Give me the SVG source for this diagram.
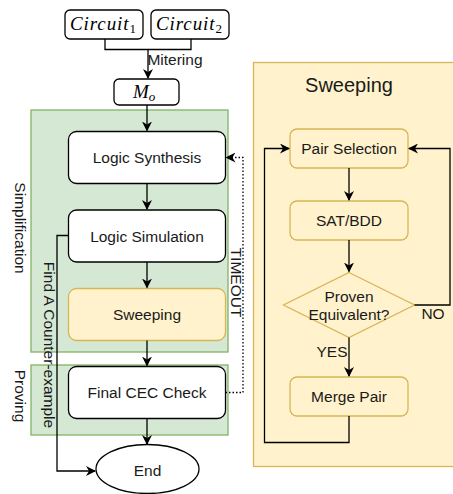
<svg xmlns="http://www.w3.org/2000/svg" width="453" height="494" viewBox="0 0 453 494">
<defs>
<marker id="arr" markerWidth="10" markerHeight="10" refX="9" refY="5" orient="auto" markerUnits="userSpaceOnUse">
<path d="M0,0 L10,5 L0,10 L3,5 Z" fill="#000"/>
</marker>
</defs>
<style>
.t{font-family:"Liberation Sans",Arial,sans-serif;font-size:15.5px;fill:#1a1a1a;text-anchor:middle;dominant-baseline:central}
.m{font-family:"Liberation Serif","Times New Roman",serif;font-style:italic;fill:#000}
.w{fill:#fff;stroke:#000;stroke-width:1.3}
.y{fill:#fff2cc;stroke:#d6b656;stroke-width:1.3}
.g{fill:#d5e8d4;stroke:#82b366;stroke-width:1.3}
.c{fill:none;stroke:#000;stroke-width:1.3}
</style>
<g id="simplification">
<rect class="g" x="31" y="110" width="197" height="242"/>
<text class="t" transform="translate(20,228) rotate(90)">Simplification</text>
</g>
<g id="proving">
<rect class="g" x="31" y="365" width="197" height="70"/>
<text class="t" transform="translate(20,396) rotate(90)">Proving</text>
</g>
<g id="sweeping-panel">
<rect class="y" x="253.5" y="62.5" width="205" height="404"/>
<text class="t" x="349" y="85" style="font-size:20px">Sweeping</text>
</g>
<g id="circuit1">
<rect class="w" x="65" y="10" width="78" height="29" rx="5"/>
<text class="m" x="70" y="30" style="font-size:19px;letter-spacing:0.9px">Circuit<tspan style="font-style:normal;font-size:13px" dy="3">1</tspan></text>
</g>
<g id="circuit2">
<rect class="w" x="151" y="10" width="78" height="29" rx="5"/>
<text class="m" x="156" y="30" style="font-size:19px;letter-spacing:0.9px">Circuit<tspan style="font-style:normal;font-size:13px" dy="3">2</tspan></text>
</g>
<g id="mo">
<rect class="w" x="114" y="79" width="65" height="26" rx="5"/>
<text class="m" x="133" y="98" style="font-size:19px">M<tspan style="font-size:13px" dy="3">o</tspan></text>
</g>
<g id="logic-synthesis">
<rect class="w" x="68.5" y="131.5" width="157" height="52" rx="8"/>
<text class="t" x="147" y="157.5">Logic Synthesis</text>
</g>
<g id="logic-simulation">
<rect class="w" x="68.5" y="210" width="157" height="52" rx="8"/>
<text class="t" x="147" y="236">Logic Simulation</text>
</g>
<g id="sweeping">
<rect class="y" x="68.5" y="288.5" width="157" height="52" rx="8"/>
<text class="t" x="147" y="314.5">Sweeping</text>
</g>
<g id="final-cec">
<rect class="w" x="68.5" y="366.5" width="157" height="52" rx="8"/>
<text class="t" x="147" y="392.5">Final CEC Check</text>
</g>
<g id="end">
<ellipse class="w" cx="147.5" cy="469" rx="51.5" ry="24.5"/>
<text class="t" x="147.5" y="470">End</text>
</g>
<g id="pair-selection">
<rect class="y" x="290" y="129" width="118" height="39" rx="7"/>
<text class="t" x="349" y="148.5">Pair Selection</text>
</g>
<g id="sat-bdd">
<rect class="y" x="290" y="201" width="118" height="39" rx="7"/>
<text class="t" x="349" y="220.5">SAT/BDD</text>
</g>
<g id="proven">
<path class="y" d="M349,272.5 L414.5,305 L349,337.5 L283.5,305 Z"/>
<text class="t" x="349" y="296">Proven</text>
<text class="t" x="349" y="314.5">Equivalent?</text>
</g>
<g id="merge-pair">
<rect class="y" x="290" y="377" width="118" height="39" rx="7"/>
<text class="t" x="349" y="396.5">Merge Pair</text>
</g>
<g id="connectors">
<path class="c" d="M105,39 V49.5 H191 V39"/>
<path class="c" d="M148,49.5 V78" marker-end="url(#arr)"/>
<text class="t" x="175" y="59">Mitering</text>
<path class="c" d="M147,105 V130.5" marker-end="url(#arr)"/>
<path class="c" d="M147,183.5 V209" marker-end="url(#arr)"/>
<path class="c" d="M147,262 V287.5" marker-end="url(#arr)"/>
<path class="c" d="M147,340.5 V365.5" marker-end="url(#arr)"/>
<path class="c" d="M147,418.5 V444" marker-end="url(#arr)"/>
<path class="c" d="M68.5,235.5 H57 V471 H95" marker-end="url(#arr)"/>
<text class="t" transform="translate(49,345) rotate(90)">Find A Counter-example</text>
<path class="c" d="M225.5,392.5 H243 V157.5 H226.5" stroke-dasharray="1.5,2" marker-end="url(#arr)"/>
<text class="t" transform="translate(236,282.5) rotate(90)">TIMEOUT</text>
<path class="c" d="M349,168 V200" marker-end="url(#arr)"/>
<path class="c" d="M349,240 V271.5" marker-end="url(#arr)"/>
<path class="c" d="M349,337.5 V376" marker-end="url(#arr)"/>
<text class="t" x="332" y="351.5">YES</text>
<path class="c" d="M414.5,305 H450 V148.5 H409" marker-end="url(#arr)"/>
<text class="t" x="433" y="313">NO</text>
<path class="c" d="M349,416 V442.5 H264.5 V148.5 H289" marker-end="url(#arr)"/>
</g>
</svg>
